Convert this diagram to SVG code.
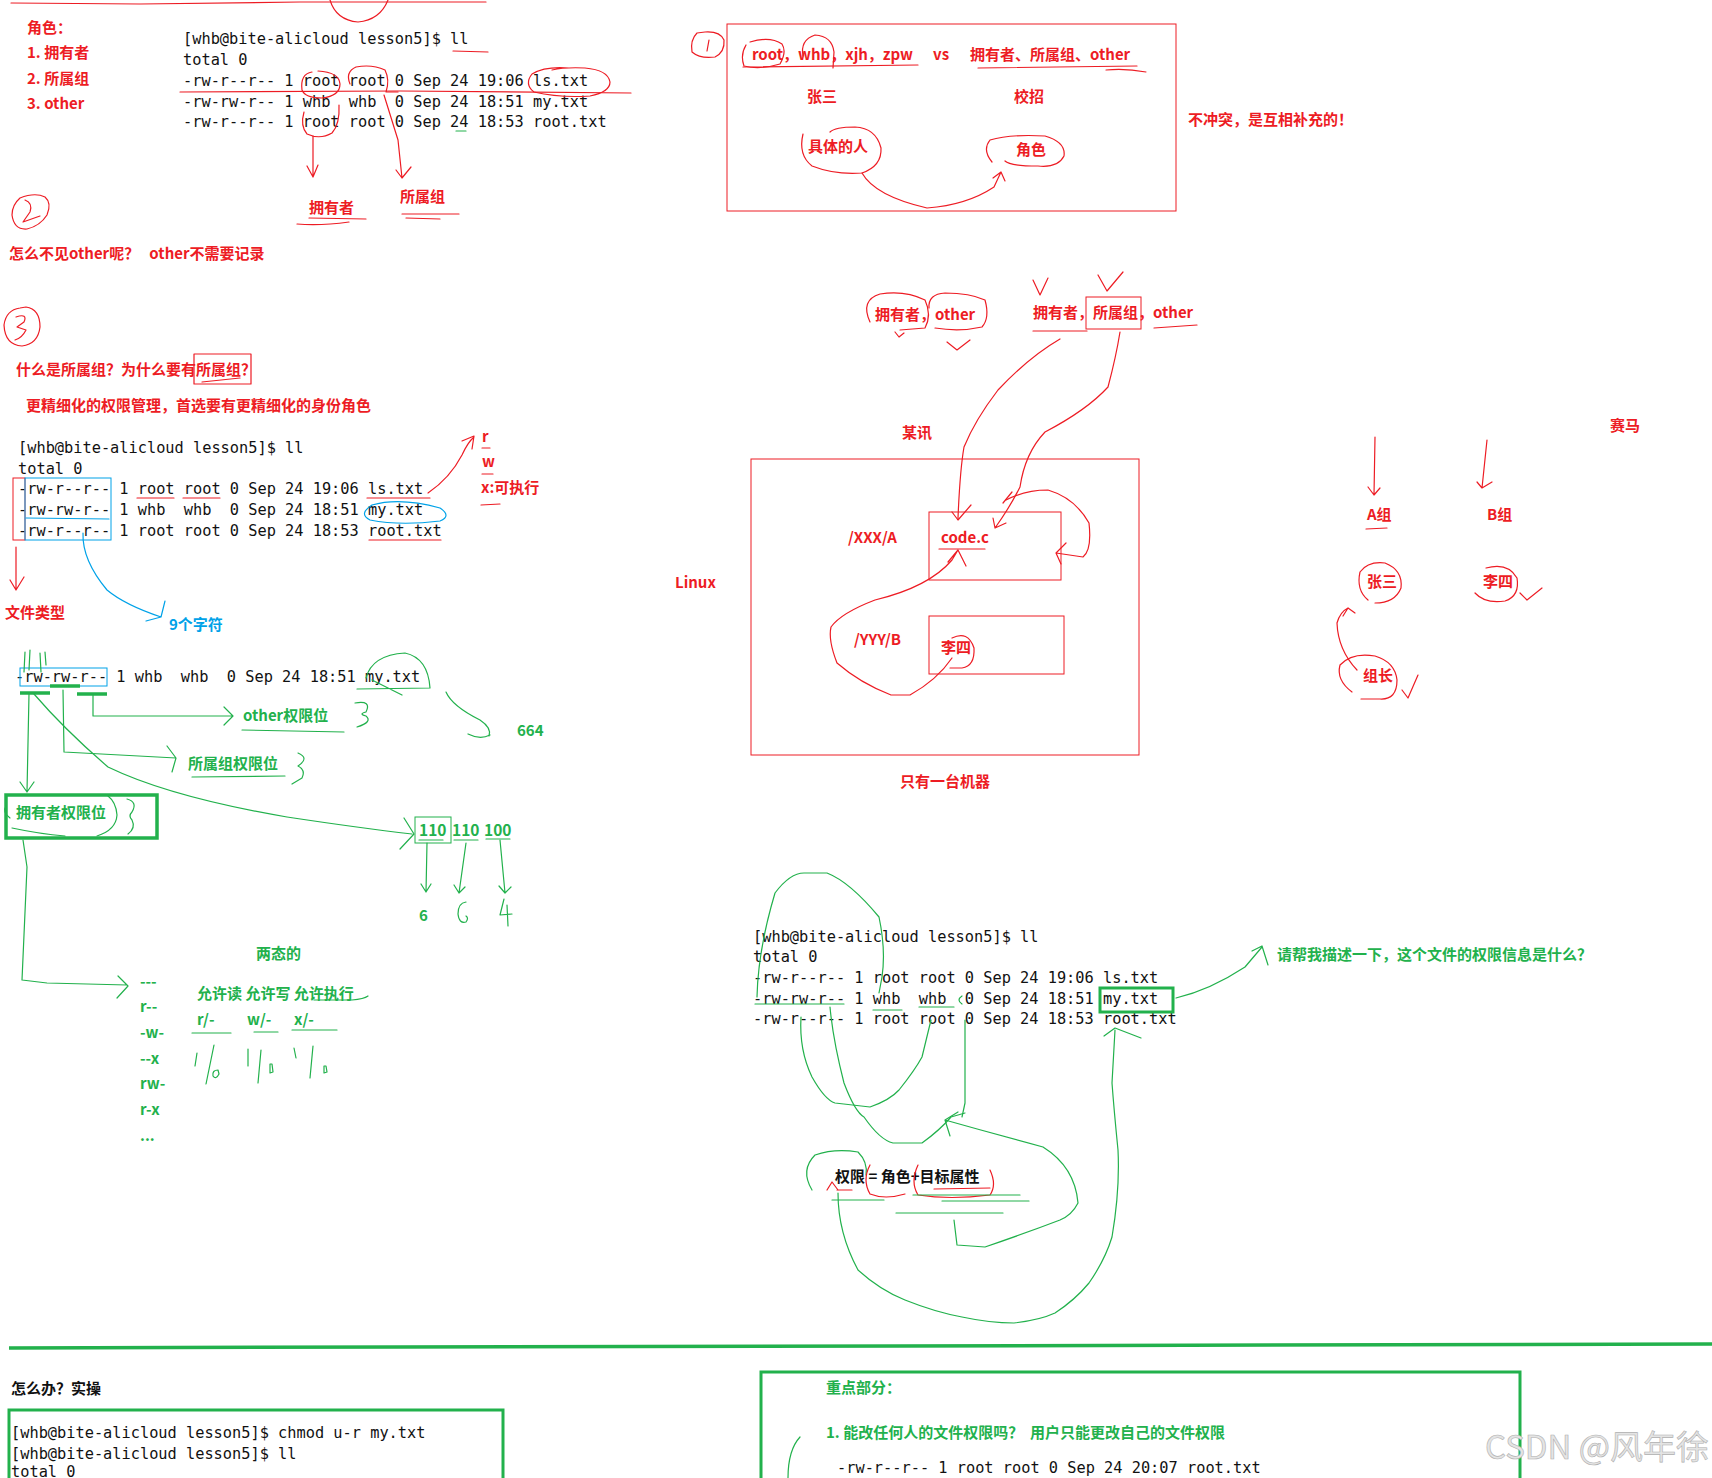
<svg xmlns="http://www.w3.org/2000/svg" width="1712" height="1478" viewBox="0 0 1712 1478">
<style>
.rt{fill:#ed1c24;font-family:"Noto Sans CJK SC","Noto Sans",sans-serif;font-weight:bold;font-size:15px;white-space:pre}
.gt{fill:#22b14c;font-family:"Noto Sans CJK SC","Noto Sans",sans-serif;font-weight:bold;font-size:15px;white-space:pre}
.bt{fill:#00a2e8;font-family:"Noto Sans CJK SC","Noto Sans",sans-serif;font-weight:bold;font-size:15px}
.kt{fill:#111;font-family:"Noto Sans CJK SC","Noto Sans",sans-serif;font-weight:bold;font-size:15px}
.mono{font-family:"DejaVu Sans Mono","Liberation Mono",monospace;font-size:15.3px;fill:#111;white-space:pre}
.rs{fill:none;stroke:#ed1c24;stroke-width:1.2;stroke-linecap:round;stroke-linejoin:round}
.gs{fill:none;stroke:#22b14c;stroke-width:1.2;stroke-linecap:round;stroke-linejoin:round}
.bs{fill:none;stroke:#00a2e8;stroke-width:1.2;stroke-linecap:round;stroke-linejoin:round}
.gb{fill:none;stroke:#22b14c;stroke-width:3.5}
.gu{stroke:#22b14c;stroke-width:3.5;fill:none}
</style>
<rect width="1712" height="1478" fill="#fff"/>

<!-- Section 1: roles -->
<g id="roles">
<text class="rt" x="27" y="33">角色：</text>
<text class="rt" x="27" y="58">1. 拥有者</text>
<text class="rt" x="27" y="84">2. 所属组</text>
<text class="rt" x="27" y="109">3. other</text>
</g>
<g id="term1">
<text class="mono" x="183" y="44" xml:space="preserve">[whb@bite-alicloud lesson5]$ ll</text>
<text class="mono" x="183" y="65" xml:space="preserve">total 0</text>
<text class="mono" x="183" y="86" xml:space="preserve">-rw-r--r-- 1 root root 0 Sep 24 19:06 ls.txt</text>
<text class="mono" x="183" y="107" xml:space="preserve">-rw-rw-r-- 1 whb  whb  0 Sep 24 18:51 my.txt</text>
<text class="mono" x="183" y="127" xml:space="preserve">-rw-r--r-- 1 root root 0 Sep 24 18:53 root.txt</text>
</g>
<g id="term1-notes">
<path class="rs" d="M11,3 L140,4 L300,2 L486,2"/>
<path class="rs" d="M330,0 Q336,20 358,22 Q380,20 388,0"/>
<path class="rs" d="M453,51 L488,52"/>
<path class="rs" d="M180,92 L400,91 L631,93"/>
<path class="rs" d="M312,72 Q300,74 302,90 Q305,98 322,98 Q340,96 340,84 Q339,72 318,71"/>
<path class="rs" d="M304,112 Q300,126 307,134 Q320,140 332,133 Q340,124 339,105"/>
<path class="rs" d="M350,84 Q345,72 356,67 Q372,64 385,70 Q390,80 386,92 L398,92"/>
<path class="rs" d="M569,68 Q545,66 532,74 Q524,84 534,92 Q560,98 590,96 Q610,92 610,82 Q608,70 585,68 Q565,67 552,70"/>
<path class="gs" d="M456,131 L466,131"/>
<path class="rs" d="M313,136 L313,177 M307,166 L313,177 L318,165"/>
<path class="rs" d="M384,95 L398,140 L402,178 M396,170 L402,178 L411,167"/>
<text class="rt" x="309" y="213">拥有者</text>
<path class="rs" d="M309,218 L366,219 M297,224 Q320,226 349,222"/>
<text class="rt" x="400" y="202">所属组</text>
<path class="rs" d="M402,214 L459,214 M406,218 L440,219"/>
<path class="rs" d="M20,198 Q12,205 12,215 Q14,230 27,229 Q40,226 47,215 Q52,203 45,197 Q35,192 20,198 Z"/>
<path class="rs" d="M25,200 Q33,203 30,212 L23,222 L40,216"/>
<text class="rt" x="9" y="259" xml:space="preserve">怎么不见other呢？   other不需要记录</text>
</g>

<!-- Section 3: group -->
<g id="group-question">
<path class="rs" d="M20,308 Q6,310 4,325 Q5,345 22,346 Q38,344 40,327 Q40,309 26,307 Z"/>
<path class="rs" d="M16,317 Q28,313 24,322 L17,327 L26,330 Q22,338 15,340"/>
<text class="rt" x="16" y="375">什么是所属组？为什么要有所属组？</text>
<rect class="rs" x="194" y="354" width="57" height="30"/>
<path class="rs" d="M202,382 L240,378"/>
<text class="rt" x="26" y="411">更精细化的权限管理，首选要有更精细化的身份角色</text>
</g>
<g id="term2">
<text class="mono" x="18" y="453" xml:space="preserve">[whb@bite-alicloud lesson5]$ ll</text>
<text class="mono" x="18" y="474" xml:space="preserve">total 0</text>
<text class="mono" x="18" y="494" xml:space="preserve">-rw-r--r-- 1 root root 0 Sep 24 19:06 ls.txt</text>
<text class="mono" x="18" y="515" xml:space="preserve">-rw-rw-r-- 1 whb  whb  0 Sep 24 18:51 my.txt</text>
<text class="mono" x="18" y="536" xml:space="preserve">-rw-r--r-- 1 root root 0 Sep 24 18:53 root.txt</text>
</g>
<g id="term2-notes">
<rect x="13" y="478" width="12" height="62" fill="none" stroke="#ed1c24" stroke-width="1"/>
<rect x="25" y="478" width="86" height="62" fill="none" stroke="#00a2e8" stroke-width="1"/>
<path class="bs" d="M26,518 L109,519"/>
<path class="rs" d="M137,498 L174,498 M183,498 L220,498 M367,498 L430,498 M369,540 L441,540"/>
<path class="bs" d="M372,505 Q400,497 440,508 Q452,516 440,521 Q400,526 370,520 Q358,514 372,505"/>
<path class="rs" d="M428,493 Q450,478 462,455 Q468,442 474,437 M462,441 L474,436 L472,449"/>
<text class="rt" x="482" y="442">r</text>
<text class="rt" x="482" y="467">w</text>
<text class="rt" x="481" y="493">x:可执行</text>
<path class="rs" d="M482,448 L490,448 M482,474 L493,474 M481,505 L500,504"/>
<path class="bs" d="M83,533 Q82,560 107,590 Q125,605 161,617 M146,621 L161,617 L165,601"/>
<text class="bt" x="169" y="630">9个字符</text>
<path class="rs" d="M16,547 L16,590 M10,580 L16,590 L24,577"/>
<text class="rt" x="5" y="618">文件类型</text>
</g>

<!-- Green section: my.txt breakdown -->
<g id="mytxt-row">
<text class="mono" x="15" y="682" xml:space="preserve">-rw-rw-r-- 1 whb  whb  0 Sep 24 18:51 my.txt</text>
<rect x="20" y="668" width="87" height="18" fill="none" stroke="#00a2e8" stroke-width="1"/>
<path class="gu" d="M20,693 L50,693 M50,686 L80,686 M77,694 L107,694"/>
<path class="gs" d="M25,652 L24,672 M30,650 L29,670 M40,653 L41,672 M45,652 L46,665"/>
<path class="gs" d="M366,678 Q372,655 405,653 Q428,658 430,688 L357,689 M372,680 Q392,690 402,695"/>
<path class="gs" d="M446,692 Q452,706 480,720 Q492,728 489,736 M468,734 Q480,740 490,735"/>
<text class="gt" x="517" y="736">664</text>
<path class="gs" d="M93,695 L93,716 L233,716 M224,707 L233,716 L224,725"/>
<text class="gt" x="243" y="721">other权限位</text>
<path class="gs" d="M242,730 L344,732"/>
<path class="gs" d="M355,703 Q372,700 366,712 Q358,714 366,716 Q373,722 357,727"/>
<path class="gs" d="M63,690 L64,752 L176,758 M167,746 L176,758 L172,772"/>
<text class="gt" x="188" y="769">所属组权限位</text>
<path class="gs" d="M192,777 L285,776"/>
<path class="gs" d="M298,753 Q310,758 298,766 Q306,770 302,778 L292,784"/>
<path class="gs" d="M29,694 L27,792 M20,782 L27,792 L34,782"/>
<rect class="gb" x="6" y="795" width="151" height="43"/>
<text class="gt" x="16" y="818">拥有者权限位</text>
<path class="gs" d="M6,806 Q2,812 10,818 M12,828 Q40,834 65,836 M97,836 Q116,830 117,815 Q116,802 108,796"/>
<path class="gs" d="M127,799 Q138,802 132,812 Q128,816 132,820 Q136,828 128,834"/>
<path class="gs" d="M34,694 Q65,730 108,767 Q170,797 287,817 Q360,828 412,834 M404,818 L414,834 L400,849"/>
<rect x="415" y="817" width="36" height="26" fill="none" stroke="#22b14c" stroke-width="1"/>
<text class="gt" x="419" y="836" style="font-size:15.5px">110</text>
<text class="gt" x="452" y="836" style="font-size:15.5px">110</text>
<text class="gt" x="484" y="836" style="font-size:15.5px">100</text>
<path class="gs" d="M419,840 L443,840 M454,840 L478,840 M486,839 L510,839"/>
<path class="gs" d="M427,843 L426,892 M421,884 L426,892 L431,884"/>
<path class="gs" d="M466,843 L459,893 M454,885 L459,893 L465,887"/>
<path class="gs" d="M500,840 L505,893 M499,886 L505,893 L511,887"/>
<text class="gt" x="419" y="921">6</text>
<path class="gs" d="M466,902 Q458,903 458,914 Q459,924 466,922 Q469,918 466,916"/>
<path class="gs" d="M504,899 L500,915 L512,914 M507,905 L508,926"/>
<path class="gs" d="M23,840 L27,867 L22,980 L47,983 L127,985 M118,976 L128,986 L117,998"/>
<text class="gt" x="140" y="987">---</text>
<text class="gt" x="140" y="1012">r--</text>
<text class="gt" x="140" y="1038">-w-</text>
<text class="gt" x="140" y="1064">--x</text>
<text class="gt" x="140" y="1089">rw-</text>
<text class="gt" x="140" y="1115">r-x</text>
<text class="gt" x="140" y="1141">...</text>
<text class="gt" x="256" y="959">两态的</text>
<text class="gt" x="197" y="999" xml:space="preserve">允许读 允许写 允许执行</text>
<path class="gs" d="M314,1000 L352,1000 Q364,999 368,996"/>
<text class="gt" x="197" y="1025">r/-</text>
<text class="gt" x="247" y="1025">w/-</text>
<text class="gt" x="294" y="1025">x/-</text>
<path class="gs" d="M192,1033 L231,1033 M254,1032 L278,1032 M292,1030 L337,1030"/>
<path class="gs" d="M197,1053 L195,1066 M214,1045 L206,1084 M218,1070 Q212,1070 213,1076 Q216,1080 219,1074 Z"/>
<path class="gs" d="M248,1049 L248,1066 M261,1050 L258,1083 M270,1064 L270,1073 L273,1072 L272,1064 Z"/>
<path class="gs" d="M294,1048 L296,1058 M313,1046 L310,1078 M324,1066 L324,1073 L327,1072 L326,1066 Z"/>
</g>

<!-- Top right: users vs roles -->
<g id="users-vs-roles">
<path class="rs" d="M697,33 Q690,40 692,52 Q700,59 715,57 Q725,52 724,40 Q720,31 705,32 Z"/>
<path class="rs" d="M709,40 L707,51"/>
<rect x="727" y="24" width="449" height="187" fill="none" stroke="#ed1c24" stroke-width="1"/>
<text class="rt" x="752" y="60">root，whb，xjh，zpw</text>
<text class="rt" x="933" y="60">vs</text>
<text class="rt" x="970" y="60">拥有者、所属组、other</text>
<path class="rs" d="M746,45 Q740,55 744,66 Q760,70 780,64 Q787,52 782,44 Q770,36 750,42"/>
<path class="rs" d="M803,56 Q800,40 815,35 Q832,36 834,52 L833,68"/>
<path class="rs" d="M743,67 L918,65 M978,68 L1137,66 M1106,70 Q1125,68 1146,72"/>
<text class="rt" x="807" y="102">张三</text>
<text class="rt" x="1014" y="102">校招</text>
<text class="rt" x="808" y="152">具体的人</text>
<path class="rs" d="M803,134 Q798,155 812,166 Q835,175 862,173 Q882,166 881,148 Q876,128 855,127 Q835,127 830,132"/>
<text class="rt" x="1016" y="155">角色</text>
<path class="rs" d="M992,162 Q982,150 990,140 Q1010,134 1045,136 Q1066,142 1064,156 Q1058,168 1038,166 Q1010,166 1005,161"/>
<path class="rs" d="M862,173 Q875,196 927,208 Q967,205 994,187 L1001,172 M993,178 L1001,172 L1005,181"/>
<text class="rt" x="1188" y="125">不冲突，是互相补充的！</text>
</g>

<!-- Middle: Linux machine -->
<g id="linux-machine">
<text class="rt" x="875" y="320">拥有者，other</text>
<path class="rs" d="M870,322 Q860,300 880,294 Q905,290 925,300 Q932,315 925,328 L900,330"/>
<path class="rs" d="M929,308 Q928,294 945,293 Q970,293 985,300 Q990,318 982,327 Q960,332 935,328"/>
<path class="rs" d="M895,332 L899,337 L904,333 M947,342 L957,350 L970,340"/>
<text class="rt" x="1033" y="318">拥有者，所属组，other</text>
<rect x="1086" y="297" width="55" height="32" fill="none" stroke="#ed1c24" stroke-width="1"/>
<path class="rs" d="M1033,331 L1087,331 M1154,328 L1197,325"/>
<path class="rs" d="M1033,280 L1040,295 L1048,278 M1098,275 L1107,291 L1123,272"/>
<path class="rs" d="M1060,339 Q1029,357 998,390 Q975,420 964,447 Q960,470 958,518 M952,512 L958,520 L971,505"/>
<path class="rs" d="M1120,332 Q1116,357 1108,387 Q1087,410 1045,432 Q1025,453 1020,487 Q1010,507 995,528 M993,518 L995,528 L1006,523"/>
<text class="rt" x="902" y="438">某讯</text>
<rect x="751" y="459" width="388" height="296" fill="none" stroke="#ed1c24" stroke-width="1"/>
<text class="rt" x="675" y="588">Linux</text>
<text class="rt" x="848" y="543">/XXX/A</text>
<rect x="929" y="512" width="132" height="68" fill="none" stroke="#ed1c24" stroke-width="1"/>
<text class="rt" x="941" y="543">code.c</text>
<path class="rs" d="M939,549 L985,549"/>
<path class="rs" d="M1006,500 Q1025,490 1048,490 Q1075,498 1089,523 Q1092,550 1083,557 L1056,553 M1066,543 L1056,553 L1061,564"/>
<path class="rs" d="M1003,503 L1012,492"/>
<text class="rt" x="854" y="645">/YYY/B</text>
<rect x="929" y="616" width="135" height="58" fill="none" stroke="#ed1c24" stroke-width="1"/>
<text class="rt" x="941" y="653">李四</text>
<path class="rs" d="M952,638 Q968,630 974,648 Q975,666 962,668 L950,668"/>
<path class="rs" d="M952,658 Q937,680 910,695 L891,695 Q860,683 837,663 Q828,640 831,627 Q841,613 875,600 Q929,587 952,560 L958,550 M948,562 L958,550 L966,566"/>
<text class="rt" x="900" y="787">只有一台机器</text>
</g>

<!-- Far right: groups -->
<g id="groups">
<text class="rt" x="1610" y="431">赛马</text>
<path class="rs" d="M1375,437 L1374,495 M1368,487 L1374,495 L1380,488"/>
<path class="rs" d="M1487,440 L1482,488 M1477,482 L1482,488 L1492,482"/>
<text class="rt" x="1367" y="520">A组</text>
<path class="rs" d="M1366,529 L1387,528"/>
<text class="rt" x="1487" y="520">B组</text>
<text class="rt" x="1367" y="587">张三</text>
<path class="rs" d="M1368,600 Q1356,590 1360,572 Q1368,561 1385,563 Q1403,570 1401,588 Q1395,603 1375,603"/>
<text class="rt" x="1483" y="587">李四</text>
<path class="rs" d="M1486,568 Q1508,562 1517,578 Q1520,596 1505,601 Q1485,604 1475,593"/>
<path class="rs" d="M1520,593 L1527,600 L1542,588"/>
<text class="rt" x="1363" y="681">组长</text>
<path class="rs" d="M1352,692 Q1336,680 1340,665 Q1352,652 1375,656 Q1395,662 1397,680 Q1397,700 1380,699 L1361,699"/>
<path class="rs" d="M1402,690 L1408,698 L1418,675"/>
<path class="rs" d="M1357,670 Q1338,650 1337,623 Q1340,612 1348,608 M1343,616 L1348,608 L1355,613"/>
</g>

<!-- Bottom right terminal -->
<g id="term3">
<text class="mono" x="753" y="942" xml:space="preserve">[whb@bite-alicloud lesson5]$ ll</text>
<text class="mono" x="753" y="962" xml:space="preserve">total 0</text>
<text class="mono" x="753" y="983" xml:space="preserve">-rw-r--r-- 1 root root 0 Sep 24 19:06 ls.txt</text>
<text class="mono" x="753" y="1004" xml:space="preserve">-rw-rw-r-- 1 whb  whb  0 Sep 24 18:51 my.txt</text>
<text class="mono" x="753" y="1024" xml:space="preserve">-rw-r--r-- 1 root root 0 Sep 24 18:53 root.txt</text>
</g>
<g id="term3-notes">
<rect x="1100" y="988" width="73" height="24" fill="none" stroke="#22b14c" stroke-width="3"/>
<path class="gs" d="M1176,998 Q1210,990 1245,967 L1262,947 M1252,951 L1262,946 L1268,965"/>
<text class="gt" x="1277" y="960">请帮我描述一下，这个文件的权限信息是什么？</text>
<path class="gs" d="M757,997 Q758,950 775,893 Q790,873 804,873 L827,873 Q850,882 879,917 Q886,950 882,977 L879,993"/>
<path class="gs" d="M755,1004 L844,1004 M873,1010 L902,1010 M919,1007 L954,1007 M962,996 Q956,1000 962,1004"/>
<path class="gs" d="M801,1017 Q799,1050 812,1077 Q825,1100 835,1103 L870,1107 Q890,1100 899,1090 Q915,1070 922,1057 L931,1020"/>
<path class="gs" d="M830,1007 Q833,1040 844,1083 Q855,1112 864,1117 Q880,1140 893,1143 L922,1143 Q940,1130 951,1117 L965,1113"/>
<path class="gs" d="M965,1020 L965,1103 L962,1117"/>
<path class="gs" d="M945,1120 Q991,1133 1043,1147 Q1075,1167 1078,1203 Q1072,1215 1060,1220 Q1026,1233 985,1247 L957,1245 L954,1220 M945,1120 L958,1112 M945,1120 L950,1136"/>
<text class="kt" x="835" y="1182">权限 = 角色+目标属性</text>
<path class="gs" d="M812,1190 Q800,1170 815,1155 Q835,1148 858,1152 Q868,1162 866,1175"/>
<path class="rs" d="M870,1165 Q862,1180 870,1194 Q885,1200 905,1194 M918,1165 Q910,1182 918,1195 Q950,1200 990,1195 Q997,1185 990,1170"/>
<path class="rs" d="M827,1190 L832,1182 L838,1190 M837,1190 L852,1190 M934,1189 L990,1188"/>
<path class="gs" d="M832,1200 L884,1200 M913,1195 L1020,1195 M942,1201 L1029,1201 M896,1213 L1003,1213"/>
<path class="gs" d="M838,1193 Q838,1233 858,1270 Q880,1290 905,1300 Q935,1312 962,1317 Q990,1323 1014,1323 Q1040,1320 1055,1313 Q1075,1300 1089,1283 Q1105,1260 1112,1237 Q1120,1190 1118,1150 Q1114,1110 1112,1083 L1115,1030 M1104,1036 L1115,1028 L1141,1038"/>
</g>

<!-- Bottom -->
<g id="divider">
<path d="M9,1348 L400,1347 L900,1346 L1712,1344" stroke="#22b14c" stroke-width="3.5" fill="none"/>
</g>
<g id="practice">
<text class="kt" x="11" y="1394">怎么办？实操</text>
<path d="M9,1480 L9,1410 L503,1410 L503,1480" fill="none" stroke="#22b14c" stroke-width="3"/>
<text class="mono" x="11" y="1438" xml:space="preserve">[whb@bite-alicloud lesson5]$ chmod u-r my.txt</text>
<text class="mono" x="11" y="1459" xml:space="preserve">[whb@bite-alicloud lesson5]$ ll</text>
<text class="mono" x="11" y="1477" xml:space="preserve">total 0</text>
</g>
<g id="key-points">
<path d="M761,1480 L761,1372 L1520,1372 L1520,1480" fill="none" stroke="#22b14c" stroke-width="3"/>
<text class="gt" x="826" y="1393">重点部分：</text>
<text class="gt" x="826" y="1438" xml:space="preserve">1. 能改任何人的文件权限吗？  用户只能更改自己的文件权限</text>
<path class="gs" d="M800,1437 Q788,1450 788,1478"/>
<text class="mono" x="837" y="1473" xml:space="preserve">-rw-r--r-- 1 root root 0 Sep 24 20:07 root.txt</text>
</g>
<text x="1485" y="1459" style="font-family:'Noto Sans CJK SC',sans-serif;font-size:33px" fill="#e4e4e4" stroke="#b0b0b0" stroke-width="0.6">CSDN @风年徐</text>
</svg>
